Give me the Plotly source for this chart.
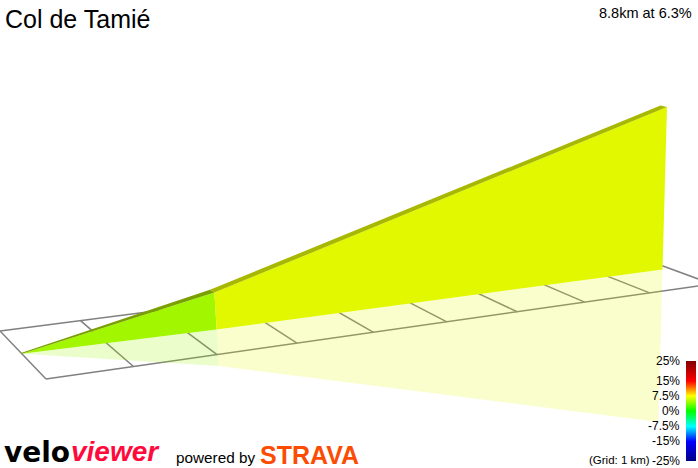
import numpy as np
import plotly.graph_objects as go

# ---- data ----
title_text = "Col de Tamié"
summary_text = "8.8km at 6.3%"
grid_km = [0, 1, 2, 3, 4, 5, 6, 7, 8, 9]
grid_cross = [0, 1]
route_km = [0, 2.36, 8.88]
route_elev_m = [0, 115, 554]
route_cross = [0.5, 0.46, 0.45]
ribbon_width = [0.02, 0.07, 0.07]
segment_colors = ["#a2f700", "#e2f800"]
ribbon_colors = ["#7a9f00", "#a8b800"]
shadow_colors = ["rgba(162,247,0,0.2)", "rgba(226,248,0,0.2)"]
scale_ticks = [25, 15, 7.5, 0, -7.5, -15, -25]
scale_labels = ["25%", "15%", "7.5%", "0%", "-7.5%", "-15%", "-25%"]
scale_colors = [[0, "#000080"], [0.2, "#0000ff"], [0.35, "#00ffff"], [0.5, "#00ff00"],
                [0.65, "#ffff00"], [0.8, "#ff0000"], [1, "#800000"]]

# ---- view calibration (perspective of the 3D scene) ----
W, H = 698, 468
ground_uv = [(0, 0), (0, 1), (9, 0), (9, 1)]
ground_px = [(46, 379), (0, 331), (712, 284), (622, 251)]
end_top_px = (667, 107)
end_mirror_px = (651, 422)


def homography(uv, px):
    rows, rhs = [], []
    for (u, v), (x, y) in zip(uv, px):
        rows.append([u, v, 1, 0, 0, 0, -u * x, -v * x]); rhs.append(x)
        rows.append([0, 0, 0, u, v, 1, -u * y, -v * y]); rhs.append(y)
    s = np.linalg.solve(np.array(rows, float), np.array(rhs, float))
    return np.array([[s[0], s[1], s[2]], [s[3], s[4], s[5]], [s[6], s[7], 1.0]])


G = homography(ground_uv, ground_px)
g0 = G @ np.array([route_km[-1], route_cross[-1], 1.0])
p0 = g0 / g0[2]
tx, ty = end_top_px
mx, my = end_mirror_px
B = (2 * p0[1] - ty - my) / (ty - my)
Ay = ty * (1 + B) - p0[1]
Ax = tx * (1 + B) - p0[0]
V = g0[2] * np.array([Ax, Ay, B]) / route_elev_m[-1]


def project(km, cross, elev=0.0):
    q = G @ np.array([km, cross, 1.0]) + elev * V
    return q[0] / q[2], q[1] / q[2]


def poly(points):
    xy = [project(*p) for p in points]
    return [a for a, _ in xy], [b for _, b in xy]


fig = go.Figure()

# ground grid
grid_style = dict(color="#808080", width=1.5)
for km in grid_km:
    xs, ys = poly([(km, c) for c in grid_cross])
    fig.add_trace(go.Scatter(x=xs, y=ys, mode="lines", line=grid_style, hoverinfo="skip"))
for c in grid_cross:
    xs, ys = poly([(km, c) for km in (grid_km[0], grid_km[-1])])
    fig.add_trace(go.Scatter(x=xs, y=ys, mode="lines", line=grid_style, hoverinfo="skip"))

# mirrored shadow, wall, top ribbon
for i in range(len(route_km) - 1):
    k0, k1 = route_km[i], route_km[i + 1]
    c0, c1 = route_cross[i], route_cross[i + 1]
    e0, e1 = route_elev_m[i], route_elev_m[i + 1]
    xs, ys = poly([(k0, c0, 0), (k1, c1, 0), (k1, c1, -e1), (k0, c0, -e0), (k0, c0, 0)])
    fig.add_trace(go.Scatter(x=xs, y=ys, mode="lines", fill="toself", fillcolor=shadow_colors[i],
                             line=dict(width=0), hoverinfo="skip"))
for i in range(len(route_km) - 1):
    k0, k1 = route_km[i], route_km[i + 1]
    c0, c1 = route_cross[i], route_cross[i + 1]
    e0, e1 = route_elev_m[i], route_elev_m[i + 1]
    xs, ys = poly([(k0, c0, 0), (k1, c1, 0), (k1, c1, e1), (k0, c0, e0), (k0, c0, 0)])
    fig.add_trace(go.Scatter(x=xs, y=ys, mode="lines", fill="toself", fillcolor=segment_colors[i],
                             line=dict(width=0), hoverinfo="skip"))
    w0, w1 = ribbon_width[i], ribbon_width[i + 1]
    xs, ys = poly([(k0, c0, e0), (k1, c1, e1), (k1, c1 + w1, e1), (k0, c0 + w0, e0), (k0, c0, e0)])
    fig.add_trace(go.Scatter(x=xs, y=ys, mode="lines", fill="toself", fillcolor=ribbon_colors[i],
                             line=dict(width=0), hoverinfo="skip"))

# gradient scale
ramp = np.linspace(-25, 25, 201)
fig.add_trace(go.Heatmap(x=[0], y=ramp, z=[[v] for v in ramp], zmin=-25, zmax=25,
                         colorscale=scale_colors, showscale=False, xaxis="x2", yaxis="y2",
                         hoverinfo="skip"))


def label(text, x, y, size, color="#000000", family="Liberation Sans", anchor="left"):
    fig.add_annotation(text=text, x=x, y=y, xref="x", yref="y", showarrow=False, xanchor=anchor,
                       yanchor="middle", font=dict(family=family, size=size, color=color),
                       borderpad=0, borderwidth=0)


label(title_text, 5, 19, 25)
label(summary_text, 692, 13, 14.5, anchor="right")
label("(Grid: 1 km)", 650, 460, 11.5, anchor="right")
label("<b>velo</b>", 4, 452, 28, family="DejaVu Sans")
label("<b><i>viewer</i></b>", 71, 451.5, 28, color="#ff0a3c")
label("powered by", 176, 457, 15.3)
label("<b>STRAVA</b>", 260, 454.5, 25, color="#fc4c02")
for tick, text in zip(scale_ticks, scale_labels):
    fig.add_annotation(text=text, x=681 / W, y=tick, xref="paper", yref="y2", showarrow=False,
                       xanchor="right", yanchor="middle", borderpad=0,
                       font=dict(family="Liberation Sans", size=12, color="#000000"))

fig.update_layout(
    width=W, height=H, autosize=False, showlegend=False,
    margin=dict(l=0, r=0, t=0, b=0, autoexpand=False), paper_bgcolor="#ffffff",
    plot_bgcolor="rgba(0,0,0,0)",
    xaxis=dict(range=[0, W], domain=[0, 1], visible=False, fixedrange=True, automargin=False),
    yaxis=dict(range=[H, 0], domain=[0, 1], visible=False, fixedrange=True, automargin=False),
    xaxis2=dict(domain=[686 / W, 696 / W], anchor="y2", visible=False, fixedrange=True,
                automargin=False),
    yaxis2=dict(domain=[(H - 461) / H, (H - 361) / H], anchor="x2", range=[-25, 25],
                automargin=False, showticklabels=False, ticks="", showgrid=False,
                zeroline=False, showline=False, fixedrange=True),
)
fig.write_html("out.html", config={"displayModeBar": False},
               post_script="document.documentElement.style.overflow='hidden';document.body.style.margin='0';")
